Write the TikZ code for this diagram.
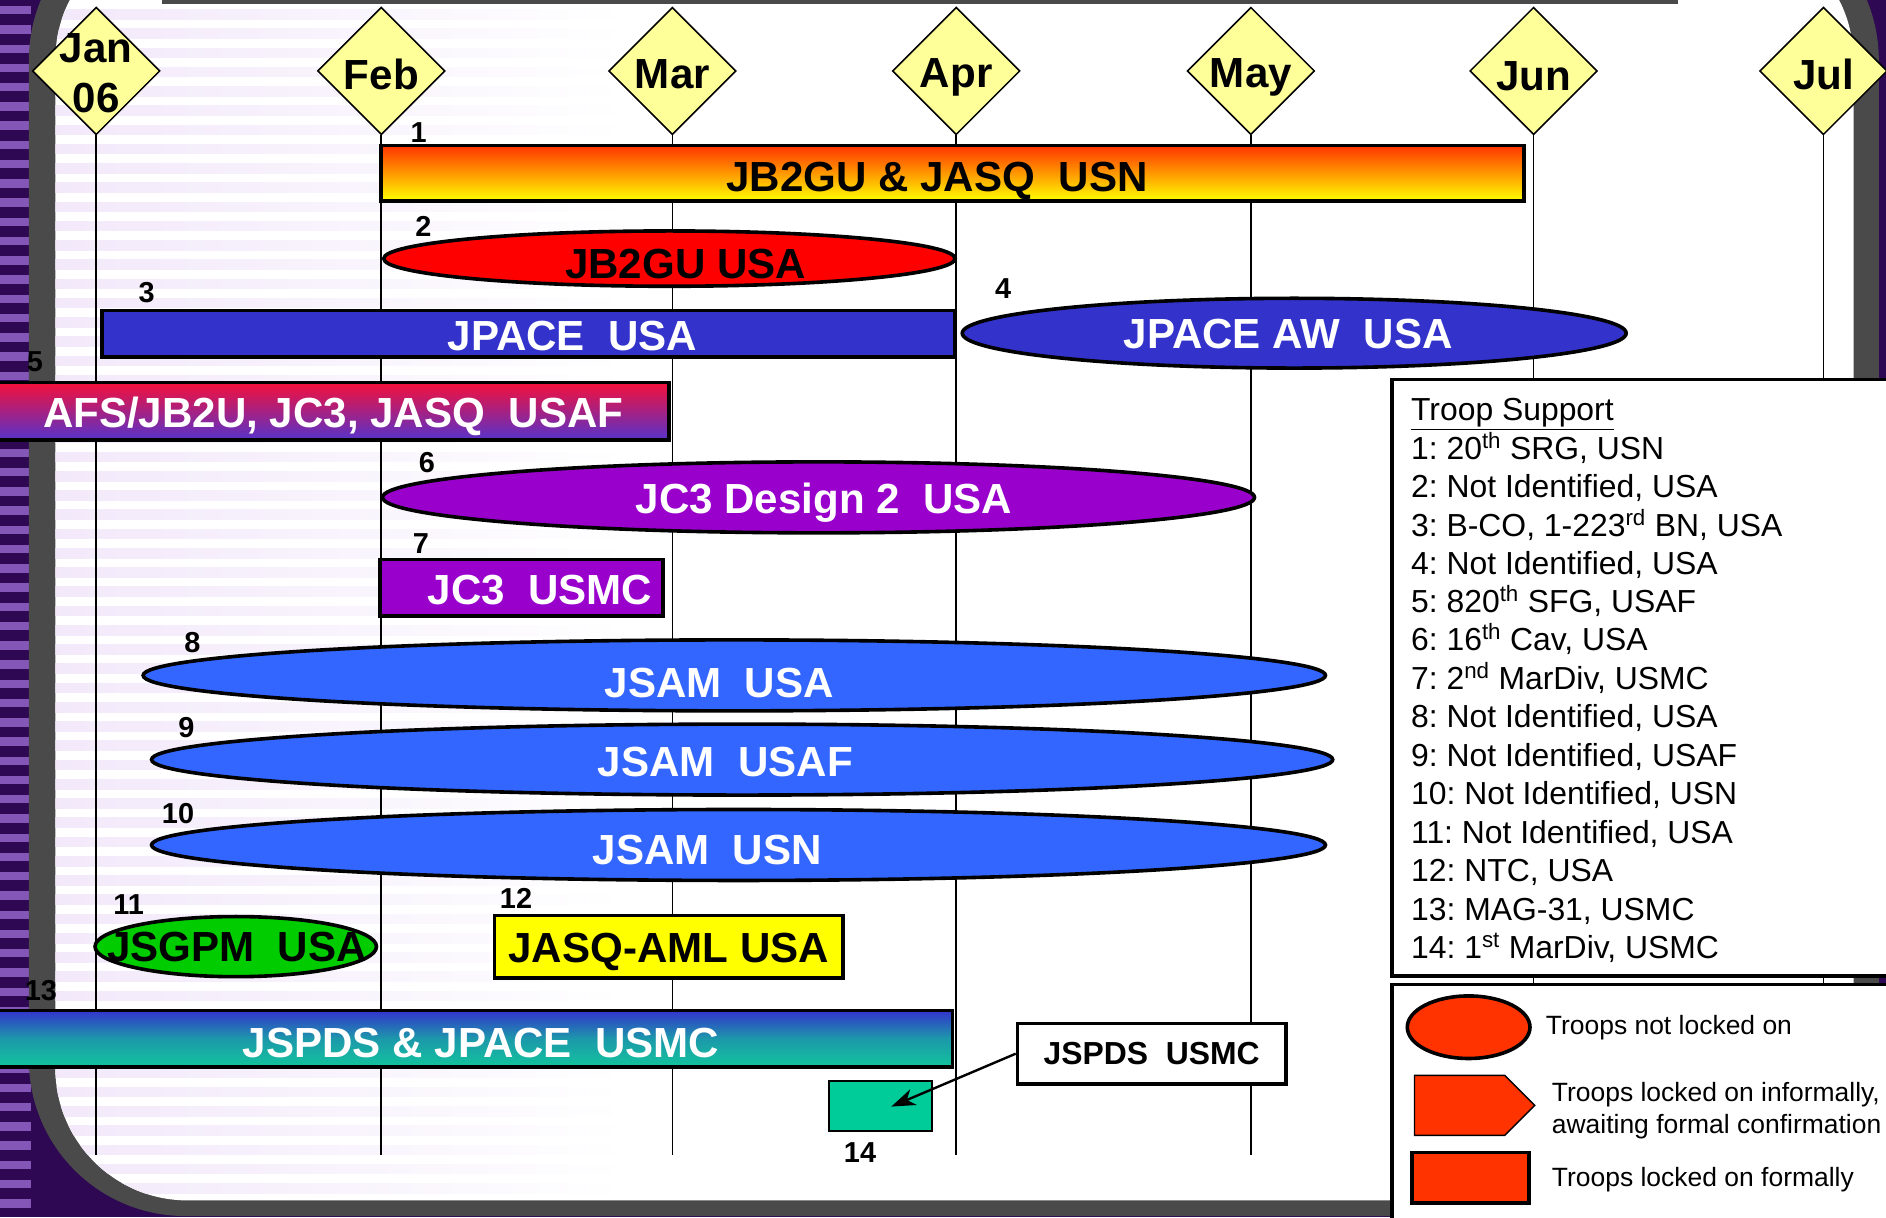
\documentclass[tikz,border=0pt]{standalone}
\usepackage{fontspec}
\setmainfont{Liberation Sans}
\frenchspacing
\usetikzlibrary{shapes.geometric,arrows.meta}
\definecolor{purpD}{HTML}{2E0852}
\definecolor{purpL}{HTML}{8456B8}
\definecolor{framegray}{HTML}{4A4A4A}
\definecolor{lav}{HTML}{F2E8FA}
\definecolor{dia}{HTML}{FFFF99}
\definecolor{cRed}{HTML}{FF0000}
\definecolor{cOrg}{HTML}{FF3300}
\definecolor{cYel}{HTML}{FFFF00}
\definecolor{cBlue}{HTML}{3333CC}
\definecolor{cSky}{HTML}{3366FF}
\definecolor{cPur}{HTML}{9900CC}
\definecolor{cGrn}{HTML}{00CC00}
\definecolor{cTeal}{HTML}{00CC99}
\definecolor{cCrim}{HTML}{F5103A}
\definecolor{cViol}{HTML}{5533CC}
\definecolor{cTeal2}{HTML}{12C49C}
\definecolor{legOrg}{HTML}{FF3300}
\begin{document}
\begin{tikzpicture}[x=1pt,y=-1pt,
  month/.style={diamond, draw=black, line width=1.3pt, fill=dia, minimum width=106pt, minimum height=106pt, inner sep=0pt},
  mtext/.style={font=\bfseries\fontsize{35}{42}\selectfont, align=center, inner sep=0pt},
  mline/.style={line width=1.4pt, draw=black},
  bar/.style={draw=black, line width=3pt, inner sep=0pt},
  oval/.style={bar, ellipse},
  lbl/.style={font=\bfseries\fontsize{35}{40}\selectfont, inner sep=0pt, text height=25pt, text depth=0pt},
  num/.style={font=\bfseries\fontsize{24}{28}\selectfont, inner sep=0pt, text height=17pt, text depth=0pt},
  leg/.style={font=\fontsize{26.5}{31.8}\selectfont, inner sep=0pt, anchor=base west},
  legb/.style={font=\fontsize{22}{26}\selectfont, inner sep=0pt, anchor=west},
]
\useasboundingbox (0,0) rectangle (1568,1012);
\clip (0,0) rectangle (1568,1012);
% ---------- background ----------
\fill[purpD] (0,0) rectangle (1568,1012);
\foreach \yy in {0,16,...,1008} \fill[purpL] (0,\yy+5) rectangle (26,\yy+12);
\fill[framegray, rounded corners=130pt] (24,-80) rectangle (1562,1011);
\fill[white, rounded corners=110pt] (46,-60) rectangle (1541,998);
\begin{scope}
  \clip[rounded corners=110pt] (46,-60) rectangle (1541,998);
  \foreach \yy in {0,16,...,1008} \shade[left color=lav, right color=white] (40,\yy+8) rectangle (520,\yy+16);
\end{scope}
\fill[framegray] (135,-3) rectangle (1395,3);
% ---------- months ----------
\foreach \nm/\xx in {Jan/80,Feb/317,Mar/559,Apr/795,May/1040,Jun/1275,Jul/1516}{
  \coordinate (e\nm) at (\xx,960);
  \node[month] (m\nm) at (\xx,59) {};
  \draw[mline] (m\nm.south) -- (e\nm);
}
\node[mtext] (tJan) at (80,61) {Jan\\06};
\node[mtext] (tFeb) at (317,62) {Feb};
\node[mtext] (tMar) at (559,62) {Mar};
\node[mtext] (tApr) at (795,64) {Apr};
\node[mtext] (tMay) at (1040,64) {May};
\node[mtext] (tJun) at (1275,63) {Jun};
\node[mtext] (tJul) at (1516,62) {Jul};
% ---------- bars ----------
\node[bar, top color=cOrg, bottom color=cYel, middle color=orange!80!yellow, minimum width=950pt, minimum height=46pt] (b1) at (792,144) {};
\node[lbl] (l1) at (779,147) {JB2GU \& JASQ\ \ USN};
\node[num] (n1) at (348,110) {1};

\node[oval, fill=cRed, minimum width=475pt, minimum height=46pt] (b2) at (556.5,215) {};
\node[lbl] (l2) at (570,219) {JB2GU USA};
\node[num] (n2) at (352,188) {2};

\node[bar, fill=cBlue, minimum width=709pt, minimum height=39pt] (b3) at (439.5,277.5) {};
\node[lbl, text=white] (l3) at (476,279) {JPACE\ \ USA};
\node[num] (n3) at (122,243) {3};

\node[oval, fill=cBlue, minimum width=552pt, minimum height=58pt] (b4) at (1076,277) {};
\node[lbl, text=white] (l4) at (1071,277) {JPACE AW\ \ USA};
\node[num] (n4) at (834,240) {4};

\node[bar, top color=cCrim, bottom color=cViol, minimum width=566pt, minimum height=48pt] (b5) at (273,342) {};
\node[lbl, text=white] (l5) at (277,343) {AFS/JB2U, JC3, JASQ\ \ USAF};
\node[num] (n5) at (29,300) {5};

\node[oval, fill=cPur, minimum width=725pt, minimum height=59pt] (b6) at (680.5,413.5) {};
\node[lbl, text=white] (l6) at (685,414) {JC3 Design 2\ \ USA};
\node[num] (n6) at (355,384) {6};

\node[bar, fill=cPur, minimum width=235pt, minimum height=47pt] (b7) at (433.5,488.5) {};
\node[lbl, text=white] (l7) at (449,490) {JC3\ \ USMC};
\node[num] (n7) at (350,452) {7};

\node[oval, fill=cSky, minimum width=983pt, minimum height=59pt] (b8) at (610.5,561.5) {};
\node[lbl, text=white] (l8) at (598,567) {JSAM\ \ USA};
\node[num] (n8) at (160,534) {8};

\node[oval, fill=cSky, minimum width=982pt, minimum height=59pt] (b9) at (617,631.5) {};
\node[lbl, text=white] (l9) at (603,633) {JSAM\ \ USAF};
\node[num] (n9) at (155,605) {9};

\node[oval, fill=cSky, minimum width=976pt, minimum height=59pt] (b10) at (614,702.5) {};
\node[lbl, text=white] (l10) at (588,706) {JSAM\ \ USN};
\node[num] (n10) at (148,676) {10};

\node[oval, fill=cGrn, minimum width=234pt, minimum height=50pt] (b11) at (196,787) {};
\node[lbl] (l11) at (197,787) {JSGPM\ \ USA};
\node[num] (n11) at (107,752) {11};

\node[bar, fill=cYel, minimum width=290pt, minimum height=52pt] (b12) at (556,787) {};
\node[lbl] (l12) at (556,788) {JASQ-AML USA};
\node[num] (n12) at (429,747) {12};

\node[bar, top color=cBlue, bottom color=cTeal2, middle color=cTeal2!70!cBlue, minimum width=797pt, minimum height=47pt] (b13) at (393.5,863.5) {};
\node[lbl, text=white] (l13) at (400,867) {JSPDS \& JPACE\ \ USMC};
\node[num] (n13) at (34,823) {13};

\node[draw=black, line width=1.5pt, fill=cTeal, inner sep=0pt, minimum width=86pt, minimum height=41pt] (b14) at (732,919.5) {};
\node[num] (n14) at (715,958) {14};

% ---------- callout ----------
\node[bar, fill=white, minimum width=223pt, minimum height=50pt, font=\bfseries\fontsize{26.5}{30}\selectfont] (co) at (957.5,876) {JSPDS\ \ USMC};
\coordinate (arrEnd) at (741,920);
\draw[line width=2pt, -{Stealth[length=20pt,width=14pt,inset=6pt]}] (co.west) -- (arrEnd);

% ---------- legend 1 ----------
\node[draw=black, line width=3pt, fill=white, inner sep=0pt, anchor=north west, minimum width=430pt, minimum height=496pt] (leg1) at (1156,314) {};
\node[leg] (g0) at (1173,350) {\underline{Troop Support}};
\node[leg] (g1) at (1173,382) {1: 20\textsuperscript{th} SRG, USN};
\node[leg] (g2) at (1173,414) {2: Not Identified, USA};
\node[leg] (g3) at (1173,446) {3: B-CO, 1-223\textsuperscript{rd} BN, USA};
\node[leg] (g4) at (1173,478) {4: Not Identified, USA};
\node[leg] (g5) at (1173,509) {5: 820\textsuperscript{th} SFG, USAF};
\node[leg] (g6) at (1173,541) {6: 16\textsuperscript{th} Cav, USA};
\node[leg] (g7) at (1173,573) {7: 2\textsuperscript{nd} MarDiv, USMC};
\node[leg] (g8) at (1173,605) {8: Not Identified, USA};
\node[leg] (g9) at (1173,637) {9: Not Identified, USAF};
\node[leg] (g10) at (1173,669) {10: Not Identified, USN};
\node[leg] (g11) at (1173,701) {11: Not Identified, USA};
\node[leg] (g12) at (1173,733) {12: NTC, USA};
\node[leg] (g13) at (1173,765) {13: MAG-31, USMC};
\node[leg] (g14) at (1173,797) {14: 1\textsuperscript{st} MarDiv, USMC};

% ---------- legend 2 ----------
\node[draw=black, line width=3pt, fill=white, inner sep=0pt, anchor=north west, minimum width=430pt, minimum height=220pt] (leg2) at (1156,817) {};
\node[oval, fill=legOrg, minimum width=102pt, minimum height=52pt] (s1) at (1221,854) {};
\node[legb] (k1) at (1285,854) {Troops not locked on};
\draw[line width=1.2pt, fill=legOrg] (1176,894) -- (1251,894) -- (1276,919) -- (1251,944) -- (1176,944) -- cycle;
\node[legb] (k2) at (1290,910) {Troops locked on informally,};
\node[legb] (k2b) at (1290,937) {awaiting formal confirmation};
\node[draw=black, line width=3pt, fill=legOrg, inner sep=0pt, minimum width=97pt, minimum height=42pt] (s3) at (1222.5,979) {};
\node[legb] (k3) at (1290,981) {Troops locked on formally};
\end{tikzpicture}
\end{document}
